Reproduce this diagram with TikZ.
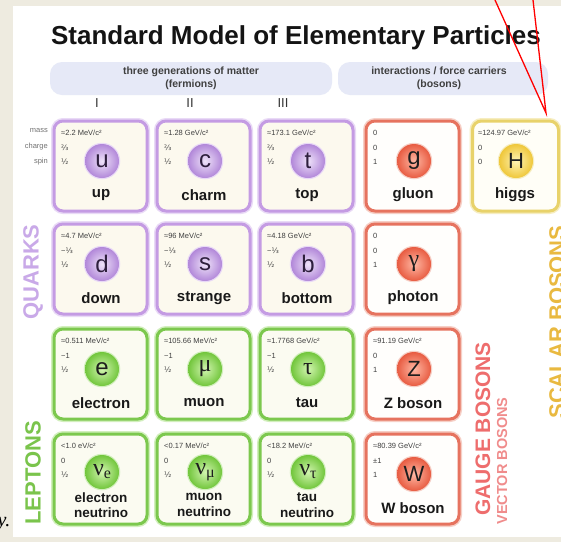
\documentclass[tikz,border=0pt]{standalone}
\usepackage{fontspec}
\setmainfont{Liberation Sans}
\newfontfamily\serifgr{Liberation Serif}
\newfontfamily\dvs{DejaVu Sans}
\newcommand\ftt{{\dvs ⅔}}
\newcommand\fot{{\dvs ⅓}}
\newcommand\fhf{{\dvs ½}}
\newcommand\mfot{−{\dvs ⅓}}
\newcommand\capsym[1]{{\fontsize{22}{22}\selectfont #1}}
\definecolor{bgc}{HTML}{EEEBE0}
\definecolor{hdr}{HTML}{E6E9F7}
\definecolor{qbd}{HTML}{C49BE3}\definecolor{qlt}{HTML}{E9DAF6}\definecolor{qfl}{HTML}{FCF9EE}
\definecolor{qin}{HTML}{EEE2F9}\definecolor{qout}{HTML}{B288D9}\definecolor{qtx}{HTML}{2E1F3D}
\definecolor{lbd}{HTML}{7CC84E}\definecolor{llt}{HTML}{D2EFBD}\definecolor{lfl}{HTML}{FBFBF1}
\definecolor{lin}{HTML}{D2F5B0}\definecolor{lout}{HTML}{72C63C}\definecolor{ltx}{HTML}{1E1E1E}
\definecolor{bbd}{HTML}{E6735F}\definecolor{blt}{HTML}{F6CFC6}\definecolor{bfl}{HTML}{FFFEFC}
\definecolor{bin}{HTML}{FFB8A4}\definecolor{bout}{HTML}{E85C42}\definecolor{btx}{HTML}{1E1E1E}
\definecolor{hbd}{HTML}{E8D26A}\definecolor{hlt}{HTML}{F6EDC0}\definecolor{hfl}{HTML}{FFFEF7}
\definecolor{hin}{HTML}{FFF4B5}\definecolor{hout}{HTML}{EFC73A}\definecolor{htx}{HTML}{1E1E1E}
\definecolor{quarkc}{HTML}{C9A9E8}
\definecolor{leptc}{HTML}{7AC44C}
\definecolor{gaugec}{HTML}{EE6D6D}
\definecolor{vectc}{HTML}{F08C8C}
\definecolor{scalc}{HTML}{E9B940}
\tikzset{
  cellbox/.style={rounded corners=9pt, draw=#1bd, fill=#1fl, line width=3pt,
     minimum width=93pt, minimum height=90pt, inner sep=0pt,
     preaction={draw=#1lt, line width=6pt}},
  pcirc/.style={circle, minimum size=34pt, inner sep=0pt, shading=radial,
     inner color=#1in, outer color=#1out, text=#1tx,
     preaction={draw=#1lt, line width=2.5pt},
     font=\fontsize{24}{24}\selectfont},
  ptext/.style={anchor=west, inner sep=0pt, text=black!75, font=\fontsize{7.5}{8}\selectfont},
  plabel/.style={inner sep=0pt, align=center, text=black!90,
     font=\bfseries\fontsize{15}{17}\selectfont},
  nlabel/.style={font=\bfseries\fontsize{13.5}{15.5}\selectfont},
  rowlab/.style={anchor=east, inner sep=0pt, text=black!55, font=\fontsize{7.5}{8}\selectfont},
  sidelab/.style={rotate=90, inner sep=0pt, font=\bfseries\fontsize{22}{22}\selectfont},
  hbar/.style={fill=hdr, rounded corners=12pt},
  htext/.style={align=center, inner sep=0pt, text=black!75, font=\bfseries\fontsize{10.5}{12.5}\selectfont},
  roman/.style={inner sep=0pt, text=black!80, font=\fontsize{13}{13}\selectfont},
  redline/.style={draw=red, line width=1.3pt}
}
% #1 name, #2 left, #3 top, #4 colour key, #5 mass, #6 charge, #7 spin, #8 symbol, #9 label
\newcommand\pcell[9]{%
  \node[cellbox=#4] (#1) at ({#2+46.5},{#3+46}) {};
  \node[ptext] (#1m) at ({#2+7},{#3+13}) {#5};
  \node[ptext] (#1q) at ({#2+7},{#3+28}) {#6};
  \node[ptext] (#1s) at ({#2+7},{#3+42}) {#7};
  \node[pcirc=#4] (#1c) at ({#2+48},{#3+41}) {#8};
  \node[plabel] (#1n) at ({#2+47},{#3+75}) {#9};
}
% neutrino variant: two-line label
\newcommand\ncell[8]{%
  \node[cellbox=#4] (#1) at ({#2+46.5},{#3+46}) {};
  \node[ptext] (#1m) at ({#2+7},{#3+13}) {#5};
  \node[ptext] (#1q) at ({#2+7},{#3+28}) {#6};
  \node[ptext] (#1s) at ({#2+7},{#3+42}) {\fhf};
  \node[pcirc=#4] (#1c) at ({#2+48},{#3+39}) {#7};
  \node[plabel, nlabel] (#1n) at ({#2+47},{#3+72}) {#8\\neutrino};
}
\begin{document}
\begin{tikzpicture}[x=1pt,y=-1pt]
\useasboundingbox (0,0) rectangle (561,542);
\fill[bgc] (0,0) rectangle (561,542);
\fill[white] (12.7,6) rectangle (561,537);
% title
\node[inner sep=0pt, font=\bfseries\fontsize{26}{26}\selectfont, text=black!92] (title) at (296,38) {Standard Model of Elementary Particles};
% header bars
\fill[hbar] (50,62) rectangle (332,95);
\fill[hbar] (338,62) rectangle (548,95);
\node[htext] (hf) at (191,78.5) {three generations of matter\\(fermions)};
\node[htext] (hb) at (439,78.5) {interactions / force carriers\\(bosons)};
\node[roman] (g1) at (97,103) {I};
\node[roman] (g2) at (190,103) {II};
\node[roman] (g3) at (283,103) {III};
% row labels
\node[rowlab] (lmass) at (48,131) {mass};
\node[rowlab] (lcharge) at (48,147) {charge};
\node[rowlab] (lspin) at (48,162) {spin};
% quarks
\pcell{up}{54}{120}{q}{≈2.2 MeV/c²}{\ftt}{\fhf}{u}{up}
\pcell{charm}{157}{120}{q}{≈1.28 GeV/c²}{\ftt}{\fhf}{c}{charm}
\pcell{top}{260}{120}{q}{≈173.1 GeV/c²}{\ftt}{\fhf}{t}{top}
\pcell{down}{54}{223}{q}{≈4.7 MeV/c²}{\mfot}{\fhf}{d}{down}
\pcell{strange}{157}{223}{q}{≈96 MeV/c²}{\mfot}{\fhf}{s}{strange}
\pcell{bottom}{260}{223}{q}{≈4.18 GeV/c²}{\mfot}{\fhf}{b}{bottom}
% leptons
\pcell{electron}{54}{328}{l}{≈0.511 MeV/c²}{−1}{\fhf}{e}{electron}
\pcell{muon}{157}{328}{l}{≈105.66 MeV/c²}{−1}{\fhf}{{\serifgr μ}}{muon}
\pcell{tau}{260}{328}{l}{≈1.7768 GeV/c²}{−1}{\fhf}{{\serifgr τ}}{tau}
\ncell{nue}{54}{433}{l}{<1.0 eV/c²}{0}{{\serifgr ν\raisebox{-3pt}{\fontsize{16}{16}\selectfont e}}}{electron}
\ncell{numu}{157}{433}{l}{<0.17 MeV/c²}{0}{{\serifgr ν\raisebox{-3pt}{\fontsize{16}{16}\selectfont μ}}}{muon}
\ncell{nutau}{260}{433}{l}{<18.2 MeV/c²}{0}{{\serifgr ν\raisebox{-3pt}{\fontsize{16}{16}\selectfont τ}}}{tau}
% gauge bosons
\pcell{gluon}{366}{120}{b}{0}{0}{1}{g}{gluon}
\pcell{photon}{366}{223}{b}{0}{0}{1}{{\serifgr γ}}{photon}
\pcell{zboson}{366}{328}{b}{≈91.19 GeV/c²}{0}{1}{\capsym{Z}}{Z boson}
\pcell{wboson}{366}{433}{b}{≈80.39 GeV/c²}{±1}{1}{\capsym{W}}{W boson}
% higgs
\node[cellbox=h, minimum width=86pt] (higgs) at (515.5,166) {};
\node[ptext] (higgsm) at (478,133) {≈124.97 GeV/c²};
\node[ptext] (higgsq) at (478,148) {0};
\node[ptext] (higgss) at (478,162) {0};
\node[pcirc=h] (higgsc) at (516,161) {\capsym{H}};
\node[plabel] (higgsn) at (515,195) {higgs};
% side labels
\node[sidelab, text=quarkc] (quarks) at (33,272) {QUARKS};
\node[sidelab, text=leptc] (leptons) at (33,473) {LEPTONS};
\node[sidelab, text=gaugec, font=\bfseries\fontsize{21}{21}\selectfont] (gauge) at (483,429) {GAUGE BOSONS};
\node[sidelab, text=vectc, font=\bfseries\fontsize{14.5}{14.5}\selectfont] (vector) at (502,461) {VECTOR BOSONS};
\node[sidelab, text=scalc] (scalar) at (557,322) {SCALAR BOSONS};
% stray glyph at bottom left
\node[inner sep=0pt, font=\serifgr\itshape\fontsize{20}{20}\selectfont] (glyph) at (4,524) {y.};
% red annotation lines
\coordinate (r1) at (495,0);
\coordinate (r2) at (533,0);
\coordinate (rt) at (546,113);
\draw[redline] (r1) -- (rt) -- (r2);
\end{tikzpicture}
\end{document}
